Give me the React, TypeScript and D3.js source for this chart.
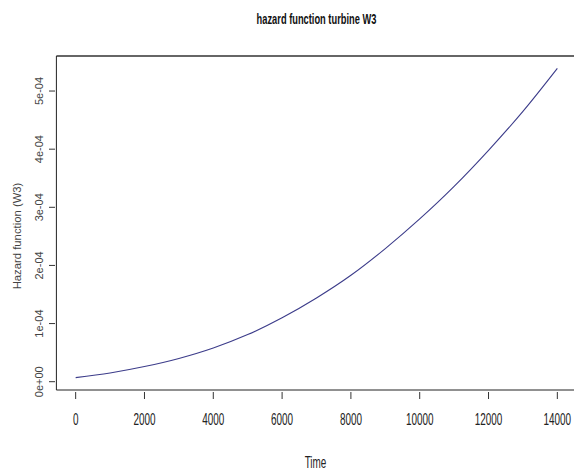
import React from "react";
import * as d3 from "d3";

// Hazard curve sampled every 1000 time units
const timePoints = [0, 1000, 2000, 3000, 4000, 5000, 6000, 7000, 8000, 9000, 10000, 11000, 12000, 13000, 14000];
const hazardValues = [
  7.0e-6, 1.5e-5, 2.6e-5, 4.0e-5, 5.8e-5, 8.1e-5, 1.10e-4, 1.44e-4, 1.83e-4, 2.29e-4,
  2.80e-4, 3.36e-4, 3.98e-4, 4.65e-4, 5.39e-4,
];
const xTicks = [0, 2000, 4000, 6000, 8000, 10000, 12000, 14000];
const yTicks = [0, 1e-4, 2e-4, 3e-4, 4e-4, 5e-4];
const yTickLabels = ["0e+00", "1e-04", "2e-04", "3e-04", "4e-04", "5e-04"];

const TITLE = "hazard function turbine W3";
const X_LABEL = "Time";
const Y_LABEL = "Hazard function (W3)";

const W = 574;
const H = 471;
const plot = { left: 56.4, right: 576.6, top: 56, bottom: 390 };

// R-style 4% axis padding
function padded(ext: [number, number]): [number, number] {
  const r = ext[1] - ext[0];
  return [ext[0] - 0.04 * r, ext[1] + 0.04 * r];
}

export default function App() {
  const data = timePoints.map((t, i) => ({ t, h: hazardValues[i] }));
  const x = d3
    .scaleLinear()
    .domain(padded(d3.extent(timePoints) as [number, number]))
    .range([plot.left, plot.right]);
  const y = d3
    .scaleLinear()
    .domain(padded(d3.extent(hazardValues) as [number, number]))
    .range([plot.bottom, plot.top]);

  const line = d3
    .line<{ t: number; h: number }>()
    .x((d) => x(d.t))
    .y((d) => y(d.h))
    .curve(d3.curveMonotoneX);

  const font = "'Liberation Sans', Arial, sans-serif";
  const sx = 0.62;

  return (
    <svg
      width={W}
      height={H}
      style={{ position: "absolute", left: 0, top: 0, display: "block", background: "#fff" }}
      fontFamily={font}
    >
      <rect width={W} height={H} fill="#fff" />
      {/* title */}
      <g transform={`translate(${(plot.left + plot.right) / 2},24) scale(${sx},1)`}>
        <text textAnchor="middle" fontSize={15} fontWeight="bold" fill="#111">
          {TITLE}
        </text>
      </g>

      {/* curve */}
      <path d={line(data) ?? ""} fill="none" stroke="#3c3c8a" strokeWidth={1.1} />

      {/* plot box */}
      <line x1={plot.left} x2={W} y1={plot.top} y2={plot.top} stroke="#666" strokeWidth={1.8} />
      <line x1={plot.left} x2={plot.left} y1={plot.top} y2={plot.bottom} stroke="#222" strokeWidth={1} />
      <line x1={plot.left} x2={W} y1={plot.bottom} y2={plot.bottom} stroke="#222" strokeWidth={1} />

      {/* x axis */}
      {xTicks.map((t) => (
        <g key={t}>
          <line x1={x(t)} x2={x(t)} y1={392} y2={399} stroke="#333" strokeWidth={1} />
          <g transform={`translate(${x(t)},425) scale(${sx},1)`}>
            <text textAnchor="middle" fontSize={16} fill="#222">
              {String(t)}
            </text>
          </g>
        </g>
      ))}
      <g transform={`translate(${(plot.left + plot.right) / 2 - 1},468) scale(${sx},1)`}>
        <text textAnchor="middle" fontSize={16} fill="#222">
          {X_LABEL}
        </text>
      </g>

      {/* y axis */}
      {yTicks.map((v, i) => (
        <g key={v}>
          <line x1={49} x2={55} y1={y(v)} y2={y(v)} stroke="#333" strokeWidth={1} />
          <text
            transform={`translate(43,${y(v)}) rotate(-90)`}
            textAnchor="middle"
            fontSize={11}
            fill="#444"
          >
            {yTickLabels[i]}
          </text>
        </g>
      ))}
      <text
        transform={`translate(21,${(plot.top + plot.bottom) / 2 + 13}) rotate(-90)`}
        textAnchor="middle"
        fontSize={11.3}
        fill="#444"
      >
        {Y_LABEL}
      </text>
    </svg>
  );
}
